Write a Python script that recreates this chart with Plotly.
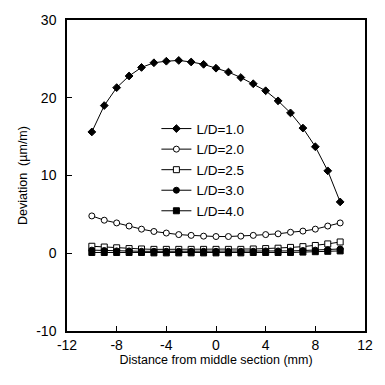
import plotly.graph_objects as go

x = list(range(-10, 11))
ld10 = [15.6, 19.0, 21.3, 22.8, 23.9, 24.5, 24.7, 24.8, 24.6, 24.3, 23.8,
        23.3, 22.6, 21.8, 20.9, 19.6, 18.05, 16.1, 13.7, 10.6, 6.6]
ld20 = [4.8, 4.25, 3.9, 3.5, 3.1, 2.8, 2.6, 2.4, 2.3, 2.2, 2.15,
        2.15, 2.2, 2.3, 2.4, 2.5, 2.7, 2.85, 3.1, 3.5, 3.9]
ld25 = [0.9, 0.8, 0.7, 0.6, 0.55, 0.5, 0.5, 0.5, 0.5, 0.5, 0.5,
        0.5, 0.5, 0.55, 0.6, 0.65, 0.75, 0.85, 1.0, 1.2, 1.45]
ld30 = [0.4, 0.35, 0.3, 0.3, 0.25, 0.25, 0.25, 0.25, 0.25, 0.25, 0.25,
        0.25, 0.25, 0.25, 0.3, 0.3, 0.3, 0.35, 0.4, 0.45, 0.55]
ld40 = [0.1, 0.1, 0.1, 0.1, 0.1, 0.05, 0.05, 0.05, 0.05, 0.05, 0.05,
        0.05, 0.05, 0.1, 0.1, 0.1, 0.1, 0.15, 0.2, 0.25, 0.3]
names = ["L/D=1.0", "L/D=2.0", "L/D=2.5", "L/D=3.0", "L/D=4.0"]
series = [ld10, ld20, ld25, ld30, ld40]
symbols = ["diamond", "circle", "square", "circle", "square"]
fills = ["black", "white", "white", "black", "black"]
sizes = [6, 6, 6, 6, 6]

xticks = [-12, -8, -4, 0, 4, 8, 12]
yticks = [-10, 0, 10, 20, 30]

fig = go.Figure()
for n, s, sym, fc, sz in zip(names, series, symbols, fills, sizes):
    fig.add_trace(go.Scatter(
        x=x, y=s, name=n, mode="lines+markers",
        line=dict(color="black", width=1),
        marker=dict(symbol=sym, size=sz, color=fc,
                    line=dict(color="black", width=1)),
    ))

font = "Liberation Sans, Arial, sans-serif"
fig.update_layout(
    width=385, height=385,
    margin=dict(l=67, r=13, t=12, b=54),
    paper_bgcolor="white", plot_bgcolor="white",
    font=dict(family=font, size=14, color="black"),
    showlegend=True,
    legend=dict(x=0.30, y=0.70, xanchor="left", yanchor="top",
                bgcolor="rgba(0,0,0,0)", font=dict(size=13.5), tracegroupgap=0,
                itemwidth=30),
)
fig.update_xaxes(range=[-12, 12], tickvals=xticks, ticktext=[str(v) for v in xticks],
                 ticks="inside", ticklen=5, tickcolor="black",
                 showline=True, linecolor="black", linewidth=1.5, mirror=True,
                 showgrid=False, zeroline=False,
                 title=dict(text="Distance from middle section (mm)", font=dict(size=12.5), standoff=4))
fig.update_yaxes(range=[-10, 30], tickvals=yticks, ticktext=[str(v) for v in yticks],
                 ticks="inside", ticklen=5, tickcolor="black", ticklabelstandoff=6,
                 showline=True, linecolor="black", linewidth=1.5, mirror=True,
                 showgrid=False, zeroline=False,
                 title=dict(text="Deviation  (µm/m)", font=dict(size=12.5), standoff=6))
fig.write_html("out.html")
